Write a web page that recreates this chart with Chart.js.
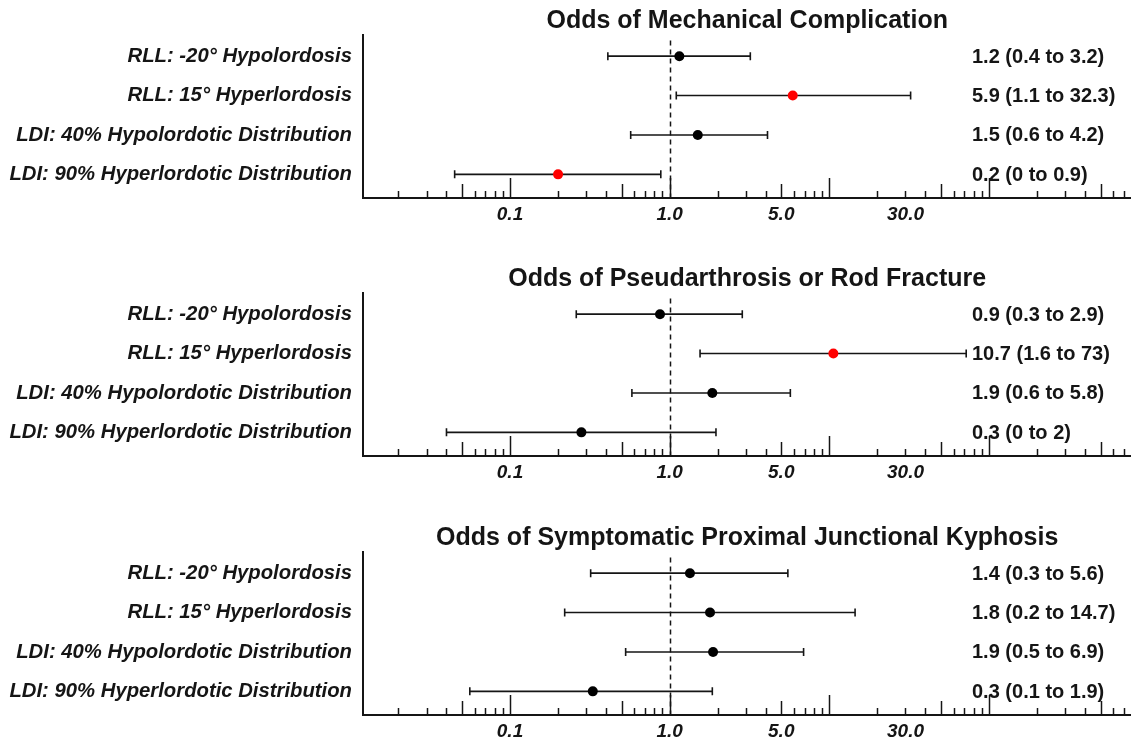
<!DOCTYPE html>
<html>
<head>
<meta charset="utf-8">
<script src="https://cdn.jsdelivr.net/npm/chart.js@4.4.1/dist/chart.umd.min.js"></script>
<style>
  html, body { margin: 0; padding: 0; background: #fff; overflow: hidden; }
  .panel { position: absolute; left: 0; width: 1131px; height: 250px; overflow: hidden; }
</style>
</head>
<body>
<div class="panel" style="top:0px"><canvas id="mech" width="1137" height="250"></canvas></div>
<div class="panel" style="top:258px"><canvas id="pseud" width="1137" height="250"></canvas></div>
<div class="panel" style="top:517px"><canvas id="pjk" width="1137" height="250"></canvas></div>
<script>
// row labels shared by all three panels
const rowLabels = [
    'RLL: -20\u00b0 Hypolordosis',
    'RLL: 15\u00b0 Hyperlordosis',
    'LDI: 40% Hypolordotic Distribution',
    'LDI: 90% Hyperlordotic Distribution'
];

// x axis (log) labelled ticks
const xTicks = [0.1, 1, 5, 30];
const xTickLabels = ['0.1', '1.0', '5.0', '30.0'];

// Odds of Mechanical Complication
const mechTitle = 'Odds of Mechanical Complication';
const mechEst = [1.15, 5.9, 1.5, 0.2];
const mechLow = [0.41, 1.1, 0.57, 0.045];
const mechHigh = [3.2, 32.3, 4.1, 0.88];
const mechText = ['1.2 (0.4 to 3.2)', '5.9 (1.1 to 32.3)', '1.5 (0.6 to 4.2)', '0.2 (0 to 0.9)'];
const mechSig = [false, true, false, true];

// Odds of Pseudarthrosis or Rod Fracture
const pseudTitle = 'Odds of Pseudarthrosis or Rod Fracture';
const pseudEst = [0.87, 10.6, 1.85, 0.28];
const pseudLow = [0.26, 1.55, 0.58, 0.04];
const pseudHigh = [2.85, 72, 5.7, 1.95];
const pseudText = ['0.9 (0.3 to 2.9)', '10.7 (1.6 to 73)', '1.9 (0.6 to 5.8)', '0.3 (0 to 2)'];
const pseudSig = [false, true, false, false];

// Odds of Symptomatic Proximal Junctional Kyphosis
const pjkTitle = 'Odds of Symptomatic Proximal Junctional Kyphosis';
const pjkEst = [1.34, 1.79, 1.87, 0.33];
const pjkLow = [0.32, 0.22, 0.53, 0.056];
const pjkHigh = [5.5, 14.5, 6.9, 1.85];
const pjkText = ['1.4 (0.3 to 5.6)', '1.8 (0.2 to 14.7)', '1.9 (0.5 to 6.9)', '0.3 (0.1 to 1.9)'];
const pjkSig = [false, false, false, false];

const FONT = "'Liberation Sans', Arial, sans-serif";
const INK = '#151515';

// minor/major tick marks drawn upward from the x axis, plus dashed line at 1
const forestDecor = {
    id: 'forestDecor',
    beforeDatasetsDraw(chart) {
        const ctx = chart.ctx;
        const xs = chart.scales.x;
        const area = chart.chartArea;
        ctx.save();
        ctx.strokeStyle = INK;
        ctx.lineWidth = 1.5;
        for (let d = -2; d <= 3; d++) {
            for (let m = 1; m <= 9; m++) {
                const v = m * Math.pow(10, d);
                if (v < xs.min || v > xs.max) continue;
                const x = Math.round(xs.getPixelForValue(v)) + 0.5;
                const len = m === 1 ? 20 : (m === 5 ? 14 : 7);
                ctx.beginPath();
                ctx.moveTo(x, area.bottom);
                ctx.lineTo(x, area.bottom - len);
                ctx.stroke();
            }
        }
        // reference line at odds = 1
        const x1 = Math.round(xs.getPixelForValue(1)) + 0.5;
        ctx.setLineDash([5, 4]);
        ctx.beginPath();
        ctx.moveTo(x1, area.top + 6);
        ctx.lineTo(x1, area.bottom);
        ctx.stroke();
        ctx.restore();
    },
    afterDraw(chart, args, opts) {
        const ctx = chart.ctx;
        const ys = chart.scales.y;
        ctx.save();
        ctx.font = 'bold 20px ' + FONT;
        ctx.fillStyle = INK;
        ctx.textAlign = 'left';
        ctx.textBaseline = 'middle';
        opts.text.forEach((t, i) => {
            ctx.fillText(t, 972, ys.getPixelForValue(i + 1) + 1);
        });
        ctx.restore();
    }
};

function makePanel(id, title, est, low, high, text, sig) {
    const datasets = [{
        type: 'scatter',
        data: est.map((v, i) => ({ x: v, y: i + 1 })),
        pointRadius: 5,
        pointBackgroundColor: sig.map(s => s ? '#ff0000' : '#000000'),
        pointBorderColor: sig.map(s => s ? '#ff0000' : '#000000'),
        pointBorderWidth: 0,
        order: 0
    }];
    est.forEach((v, i) => {
        datasets.push({
            type: 'line',
            data: [{ x: low[i], y: i + 1 }, { x: high[i], y: i + 1 }],
            borderColor: INK,
            borderWidth: 1.6,
            pointStyle: 'line',
            rotation: 90,
            pointRadius: 4,
            pointBorderWidth: 1.6,
            pointBorderColor: INK,
            order: 1
        });
    });

    return new Chart(document.getElementById(id), {
        data: { datasets: datasets },
        options: {
            responsive: false,
            animation: false,
            devicePixelRatio: 1,
            layout: { padding: 0 },
            plugins: {
                legend: { display: false },
                tooltip: { enabled: false },
                title: {
                    display: true,
                    text: title,
                    fullSize: false,
                    color: INK,
                    font: { family: FONT, size: 25, weight: 'bold', lineHeight: 1.1 },
                    padding: { top: 7, bottom: 0 }
                },
                forestDecor: { text: text }
            },
            scales: {
                x: {
                    type: 'logarithmic',
                    min: 0.012,
                    max: 780,
                    afterBuildTicks: s => { s.ticks = xTicks.map(v => ({ value: v })); },
                    afterFit: s => { s.height = 52; },
                    ticks: {
                        callback: (v, i) => xTickLabels[i],
                        color: INK,
                        padding: 5,
                        maxRotation: 0,
                        autoSkip: false,
                        font: { family: FONT, size: 19, weight: 'bold', style: 'italic' }
                    },
                    grid: { display: false, drawTicks: false },
                    border: { display: true, color: INK, width: 2 }
                },
                y: {
                    type: 'linear',
                    reverse: true,
                    min: 0.45,
                    max: 4.6,
                    afterBuildTicks: s => { s.ticks = [1, 2, 3, 4].map(v => ({ value: v })); },
                    afterFit: s => { s.width = 363; },
                    ticks: {
                        callback: (v, i) => rowLabels[i],
                        color: INK,
                        padding: 11,
                        autoSkip: false,
                        font: { family: FONT, size: 20.3, weight: 'bold', style: 'italic' }
                    },
                    grid: { display: false, drawTicks: false },
                    border: { display: true, color: INK, width: 2 }
                }
            }
        },
        plugins: [forestDecor]
    });
}

makePanel('mech', mechTitle, mechEst, mechLow, mechHigh, mechText, mechSig);
makePanel('pseud', pseudTitle, pseudEst, pseudLow, pseudHigh, pseudText, pseudSig);
makePanel('pjk', pjkTitle, pjkEst, pjkLow, pjkHigh, pjkText, pjkSig);
</script>
</body>
</html>
